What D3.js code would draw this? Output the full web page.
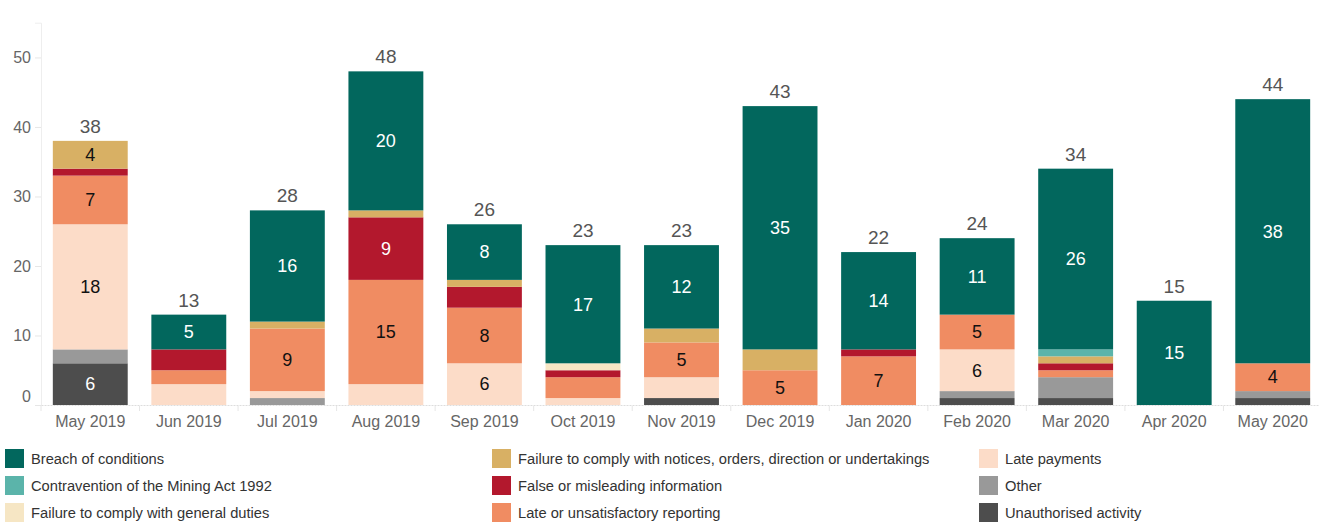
<!DOCTYPE html>
<html>
<head>
<meta charset="utf-8">
<script src="https://cdn.jsdelivr.net/npm/d3@7"></script>
<style>
  body { margin: 0; background: #fff; font-family: "Liberation Sans", Arial, sans-serif; }
  svg text { font-family: "Liberation Sans", Arial, sans-serif; }
</style>
</head>
<body>
<div id="chart"></div>
<script>
// months on the x axis
const months = ["May 2019", "Jun 2019", "Jul 2019", "Aug 2019", "Sep 2019", "Oct 2019",
    "Nov 2019", "Dec 2019", "Jan 2020", "Feb 2020", "Mar 2020", "Apr 2020", "May 2020"];

// legend order (column by column)
const categories = [
    "Breach of conditions",
    "Contravention of the Mining Act 1992",
    "Failure to comply with general duties",
    "Failure to comply with notices, orders, direction or undertakings",
    "False or misleading information",
    "Late or unsatisfactory reporting",
    "Late payments",
    "Other",
    "Unauthorised activity"
];

const breach        = [0, 5, 16, 20, 8, 17, 12, 35, 14, 11, 26, 15, 38];
const contravention = [0, 0, 0, 0, 0, 0, 0, 0, 0, 0, 1, 0, 0];
const generalDuties = [0, 0, 0, 0, 0, 1, 0, 0, 0, 0, 0, 0, 0];
const notices       = [4, 0, 1, 1, 1, 0, 2, 3, 0, 0, 1, 0, 0];
const falseInfo     = [1, 3, 0, 9, 3, 1, 0, 0, 1, 0, 1, 0, 0];
const lateReporting = [7, 2, 9, 15, 8, 3, 5, 5, 7, 5, 1, 0, 4];
const latePayments  = [18, 3, 1, 3, 6, 1, 3, 0, 0, 6, 0, 0, 0];
const other         = [2, 0, 1, 0, 0, 0, 0, 0, 0, 1, 3, 0, 1];
const unauthorised  = [6, 0, 0, 0, 0, 0, 1, 0, 0, 1, 1, 0, 1];

const yTicks = [0, 10, 20, 30, 40, 50];

const seriesValues = [breach, contravention, generalDuties, notices, falseInfo,
    lateReporting, latePayments, other, unauthorised];

const colors = ["#02675d", "#5bb4aa", "#f6e6c4", "#d8b064", "#b3182d",
    "#f08c62", "#fcdcc8", "#999999", "#4d4d4d"];
const darkText = new Set(["Breach of conditions", "False or misleading information", "Unauthorised activity"]);

const width = 1319, height = 523;

// table for the stack
const table = months.map((m, i) => {
    const row = {month: m};
    categories.forEach((c, j) => row[c] = seriesValues[j][i]);
    return row;
});
const stackOrder = categories.slice().reverse();
const stacked = d3.stack().keys(stackOrder)(table);
const totals = table.map(r => d3.sum(categories, c => r[c]));

const color = d3.scaleOrdinal().domain(categories).range(colors);

const x = d3.scaleBand()
    .domain(months)
    .range([41, 1322])
    .paddingInner(0.24)
    .paddingOuter(0.12);

const y = d3.scaleLinear()
    .domain([0, 55])
    .range([405, 22.7]);

const svg = d3.select("#chart").append("svg")
    .attr("width", width)
    .attr("height", height);

// y axis
const yAxis = svg.append("g")
    .attr("transform", "translate(41,0)")
    .call(d3.axisLeft(y).tickValues(yTicks).tickSize(6).tickPadding(4));
yAxis.select(".domain").attr("stroke", "#eeeeee");
yAxis.selectAll(".tick line").attr("stroke", "#e6e6e6");
yAxis.selectAll(".tick text")
    .attr("fill", "#666")
    .style("font-size", "16px")
    .attr("dy", d => d === 0 ? "-0.2em" : "0.32em");

// x axis
const xAxis = svg.append("g")
    .attr("transform", "translate(0,405)")
    .call(d3.axisBottom(x).tickSize(0).tickPadding(8));
xAxis.select(".domain").attr("stroke", "#dddddd").attr("stroke-dasharray", "2,1");
xAxis.selectAll(".tick text")
    .attr("fill", "#666")
    .style("font-size", "16px")
    .attr("dy", "0.85em");

// band separators under the baseline
svg.append("g").selectAll("line")
    .data(months)
    .enter().append("line")
    .attr("x1", d => x(d) - x.step() * x.paddingInner() / 2)
    .attr("x2", d => x(d) - x.step() * x.paddingInner() / 2)
    .attr("y1", 406)
    .attr("y2", 411)
    .attr("stroke", "#e6e6e6");

// bars
const layers = svg.append("g").selectAll("g")
    .data(stacked)
    .enter().append("g")
    .attr("fill", d => color(d.key));

layers.selectAll("rect")
    .data(d => d.map(v => Object.assign(v, {key: d.key})))
    .enter().append("rect")
    .attr("x", d => x(d.data.month))
    .attr("width", x.bandwidth())
    .attr("y", d => y(d[1]))
    .attr("height", d => y(d[0]) - y(d[1]));

// segment labels
layers.selectAll("text")
    .data(d => d.filter(v => v[1] - v[0] >= 4))
    .enter().append("text")
    .attr("x", d => x(d.data.month) + x.bandwidth() / 2)
    .attr("y", d => (y(d[0]) + y(d[1])) / 2)
    .attr("dy", "0.35em")
    .attr("text-anchor", "middle")
    .style("font-size", "18px")
    .attr("fill", d => darkText.has(d.key) ? "#ffffff" : "#111111")
    .text(d => d[1] - d[0]);

// totals
svg.append("g").selectAll("text")
    .data(months)
    .enter().append("text")
    .attr("x", d => x(d) + x.bandwidth() / 2)
    .attr("y", (d, i) => y(totals[i]) - 8)
    .attr("text-anchor", "middle")
    .style("font-size", "19px")
    .attr("fill", "#555")
    .text((d, i) => totals[i]);

// legend, 3 columns
const colX = [5, 492, 979];
const legend = svg.append("g").selectAll("g")
    .data(categories)
    .enter().append("g")
    .attr("transform", (d, i) => `translate(${colX[Math.floor(i / 3)]},${449 + (i % 3) * 27})`);

legend.append("rect")
    .attr("width", 19)
    .attr("height", 19)
    .attr("fill", d => color(d));

legend.append("text")
    .attr("x", 26)
    .attr("y", 10)
    .attr("dy", "0.35em")
    .style("font-size", "14.7px")
    .attr("fill", "#333")
    .text(d => d);
</script>
</body>
</html>
